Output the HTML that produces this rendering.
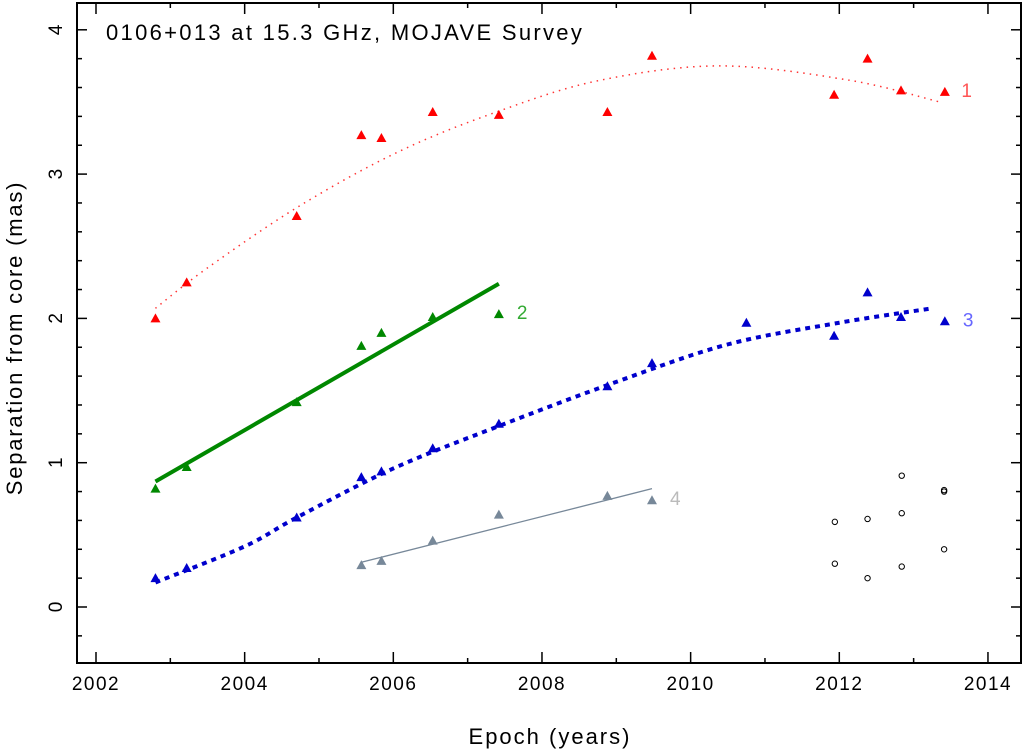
<!DOCTYPE html>
<html><head><meta charset="utf-8"><style>
body{margin:0;background:#fff}
svg{display:block;font-family:"Liberation Sans","DejaVu Sans",sans-serif}
</style></head><body>
<svg id="chart" width="1027" height="750">
<rect x="77" y="3" width="944" height="660" fill="none" stroke="#000" stroke-width="2"/>
<g id="ticks"></g>
<text x="106" y="40" font-size="22" letter-spacing="2.3">0106+013 at 15.3 GHz, MOJAVE Survey</text>
<text x="550" y="744" font-size="22" letter-spacing="2" text-anchor="middle">Epoch (years)</text>
<text transform="translate(22,338) rotate(-90)" font-size="22" letter-spacing="1.8" text-anchor="middle">Separation from core (mas)</text>
<g id="marks"></g>
</svg>
<script>
const xTicks=[2002,2004,2006,2008,2010,2012,2014];
const yTicks=[0,1,2,3,4];
const red=[[2002.8,2.00],[2003.22,2.25],[2004.7,2.71],[2005.57,3.27],[2005.84,3.25],[2006.53,3.43],[2007.42,3.41],[2008.88,3.43],[2009.48,3.82],[2011.93,3.55],[2012.38,3.80],[2012.83,3.58],[2013.42,3.57]];
const redFit=[[2002.8,2.07],[2003.5,2.35],[2004.74,2.78],[2006.09,3.16],[2007.44,3.44],[2008.78,3.65],[2010.4,3.75],[2012.14,3.65],[2013.35,3.50]];
const green=[[2002.8,0.82],[2003.22,0.97],[2004.7,1.42],[2005.57,1.81],[2005.84,1.90],[2006.53,2.01],[2007.42,2.03]];
const greenFit=[[2002.8,0.87],[2007.42,2.24]];
const blue=[[2002.8,0.20],[2003.22,0.27],[2004.7,0.62],[2005.57,0.90],[2005.84,0.94],[2006.53,1.10],[2007.42,1.27],[2008.88,1.53],[2009.48,1.69],[2010.75,1.97],[2011.93,1.88],[2012.38,2.18],[2012.83,2.01],[2013.42,1.98]];
const blueFit=[[2002.8,0.17],[2004,0.42],[2004.7,0.62],[2006,0.96],[2007.4,1.25],[2009,1.56],[2010.5,1.82],[2012,1.97],[2013.25,2.07]];
const gray=[[2005.57,0.29],[2005.84,0.32],[2006.53,0.46],[2007.42,0.64],[2008.88,0.77],[2009.48,0.74]];
const grayFit=[[2005.57,0.31],[2009.48,0.82]];
const circles=[[2011.94,0.59],[2011.94,0.30],[2012.38,0.61],[2012.38,0.20],[2012.84,0.91],[2012.84,0.65],[2012.84,0.28],[2013.41,0.80],[2013.41,0.81],[2013.41,0.40]];
const labels=[["1",2013.4,3.57,"#f55"],["2",2007.42,2.03,"#3a3"],["3",2013.42,1.98,"#66f"],["4",2009.48,0.74,"#bbb"]];

const X=v=>96+(v-2002)*74.33, Y=v=>607-v*144.3;
const NS="http://www.w3.org/2000/svg";
const svg=document.getElementById('chart'), tg=document.getElementById('ticks'), mg=document.getElementById('marks');
function mk(tag,attrs,parent){const e=document.createElementNS(NS,tag);for(const k in attrs)e.setAttribute(k,attrs[k]);parent.appendChild(e);return e;}
for(let yr=2002;yr<=2014;yr++){const x=X(yr),maj=yr%2==0;
 const l=mk('line',{x1:x,x2:x,y1:663,y2:663-(maj?11:5),stroke:'#000','stroke-width':1.5},tg);
 
 
 const l2=mk('line',{x1:x,x2:x,y1:3,y2:3+(maj?11:5),stroke:'#000','stroke-width':1.5},tg);
 
 }
xTicks.forEach(t=>{const e=mk('text',{x:X(t),y:690,'font-size':19,'letter-spacing':1.5,'text-anchor':'middle'},tg);e.textContent=t;
 
 });
for(let i=-2;i<=20;i++){const v=i*0.2,y=Y(v);if(y<4||y>662)continue;const maj=i%5==0;
 const l=mk('line',{x1:77,x2:77+(maj?10:5),y1:y,y2:y,stroke:'#000','stroke-width':1.5},tg);
 
 
 const l2=mk('line',{x1:1021,x2:1021-(maj?10:5),y1:y,y2:y,stroke:'#000','stroke-width':1.5},tg);
 
 }
yTicks.forEach(t=>{const e=mk('text',{transform:`translate(62,${Y(t)}) rotate(-90)`,'font-size':19,'text-anchor':'middle'},tg);e.textContent=t;
 
 });
function smooth(pts){let d=`M${X(pts[0][0])},${Y(pts[0][1])}`;
 for(let i=0;i<pts.length-1;i++){const p0=pts[Math.max(0,i-1)],p1=pts[i],p2=pts[i+1],p3=pts[Math.min(pts.length-1,i+2)];
  const c1x=X(p1[0])+(X(p2[0])-X(p0[0]))/6,c1y=Y(p1[1])+(Y(p2[1])-Y(p0[1]))/6,c2x=X(p2[0])-(X(p3[0])-X(p1[0]))/6,c2y=Y(p2[1])-(Y(p3[1])-Y(p1[1]))/6;
  d+=` C${c1x},${c1y} ${c2x},${c2y} ${X(p2[0])},${Y(p2[1])}`;}return d;}
function line(pts,color,w,dash,name){const p=mk('path',{d:smooth(pts),fill:'none',stroke:color,'stroke-width':w},mg);if(dash)p.setAttribute('stroke-dasharray',dash);
 
 }
function tris(pts,color,name){pts.forEach(p=>{const x=X(p[0]),y=Y(p[1]);
 const t=mk('polygon',{points:`${x-5},${y+4} ${x+5},${y+4} ${x},${y-5}`,fill:color},mg);
 
 });}
line(redFit,'#f33',1.5,'1.5 5','fit-line-1');
line(greenFit,'#080',4,null,'fit-line-2');
line(blueFit,'#00c',4,'5 5','fit-line-3');
line(grayFit,'#789',1.3,null,'fit-line-4');
tris(red,'#f00','point-comp-1');
tris(green,'#080','point-comp-2');
tris(blue,'#00c','point-comp-3');
tris(gray,'#789','point-comp-4');
circles.forEach(p=>{const c=mk('circle',{cx:X(p[0]),cy:Y(p[1]),r:2.7,fill:'none',stroke:'#000','stroke-width':1},mg);
 
 });
labels.forEach(l=>{const e=mk('text',{x:X(l[1])+18,y:Y(l[2])+5,'font-size':19,fill:l[3]},mg);e.textContent=l[0];
 
 });
</script>
</body></html>
